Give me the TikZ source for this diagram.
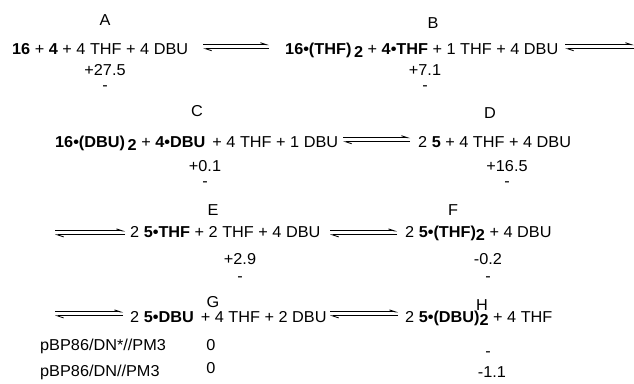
\documentclass[tikz,border=0pt]{standalone}
\usepackage{fontspec}
\setmainfont[FakeStretch=1.03]{Liberation Sans}
\usetikzlibrary{arrows.meta}

% lowered bold index, as in (THF)_2
\newcommand\lowidx[1]{\raisebox{-3.2pt}{\textbf{#1}}}

\tikzset{
  txt/.style={inner sep=0pt, font=\fontsize{15.8}{18}\selectfont},
  eqn/.style={txt, anchor=base west},
  lab/.style={txt, anchor=base},
  harp/.style={line width=0.85pt, -{Straight Barb[left,length=6pt,width=4pt]}},
}

% a pair of opposed half-arrows between two coordinates
\newcommand\equil[2]{%
  \draw[harp] ([yshift=2pt]#1) -- ([yshift=2pt]#2);
  \draw[harp] ([yshift=-2pt]#2) -- ([yshift=-2pt]#1);}

\begin{document}
\begin{tikzpicture}[x=1pt, y=-1pt]
\useasboundingbox (0,0) rectangle (634,383);

% ---- row 1 ----
\node[lab] (lA) at (105,25) {A};
\node[eqn] (eqA) at (12,54) {\textbf{16} + \textbf{4} + 4 THF + 4 DBU};
\node[lab] (vA1) at (105,75) {+27.5};
\node[lab] (vA2) at (105,90) {-};
\coordinate (a1s) at (203,46.7);
\coordinate (a1e) at (269,46.7);
\equil{a1s}{a1e}

\node[lab] (lB) at (433,28) {B};
\node[eqn] (eqB) at (285,54) {\textbf{16•(THF)}\,\lowidx{2} + \textbf{4•THF} + 1 THF + 4 DBU};
\node[lab] (vB1) at (425,75) {+7.1};
\node[lab] (vB2) at (425,90) {-};
\coordinate (a2s) at (565,46.7);
\coordinate (a2e) at (634,46.7);
\equil{a2s}{a2e}

% ---- row 2 ----
\node[lab] (lC) at (197,116) {C};
\node[eqn] (eqC) at (55,147) {\textbf{16•(DBU)}\,\lowidx{2} + \textbf{4•DBU}\hspace{0.45em}+ 4 THF + 1 DBU};
\node[lab] (vC1) at (205,171) {+0.1};
\node[lab] (vC2) at (205,186) {-};
\coordinate (a3s) at (343,139.7);
\coordinate (a3e) at (410,139.7);
\equil{a3s}{a3e}

\node[lab] (lD) at (490,118) {D};
\node[eqn] (eqD) at (418,147) {2 \textbf{5} + 4 THF + 4 DBU};
\node[lab] (vD1) at (507,171) {+16.5};
\node[lab] (vD2) at (507,186) {-};

% ---- row 3 ----
\coordinate (a4s) at (55,232.9);
\coordinate (a4e) at (125,232.9);
\equil{a4s}{a4e}
\node[lab] (lE) at (213,215) {E};
\node[eqn] (eqE) at (130,237) {2 \textbf{5•THF} + 2 THF + 4 DBU};
\node[lab] (vE1) at (240,264) {+2.9};
\node[lab] (vE2) at (240,281) {-};
\coordinate (a5s) at (330,232.9);
\coordinate (a5e) at (397,232.9);
\equil{a5s}{a5e}

\node[lab] (lF) at (453,215) {F};
\node[eqn] (eqF) at (405,237) {2 \textbf{5•(THF)}\lowidx{2} + 4 DBU};
\node[lab] (vF1) at (488,264) {-0.2};
\node[lab] (vF2) at (488,281) {-};

% ---- row 4 ----
\coordinate (a6s) at (55,313.9);
\coordinate (a6e) at (123,313.9);
\equil{a6s}{a6e}
\node[lab] (lG) at (213,307) {G};
\node[eqn] (eqG) at (130,322) {2 \textbf{5•DBU}\hspace{0.45em}+ 4 THF + 2 DBU};
\coordinate (a7s) at (330,313.9);
\coordinate (a7e) at (398,313.9);
\equil{a7s}{a7e}
\node[lab] (lH) at (482,310) {H};
\node[eqn] (eqH) at (405,322) {2 \textbf{5•(DBU)}\lowidx{2} + 4 THF};

% ---- method rows ----
\node[eqn] (m1) at (40,350) {pBP86/DN*//PM3};
\node[eqn] (m2) at (40,376) {pBP86/DN//PM3};
\node[lab] (vG1) at (211,350) {0};
\node[lab] (vG2) at (211,373) {0};
\node[lab] (vH1) at (488,356) {-};
\node[lab] (vH2) at (492,377) {-1.1};
\end{tikzpicture}
\end{document}
